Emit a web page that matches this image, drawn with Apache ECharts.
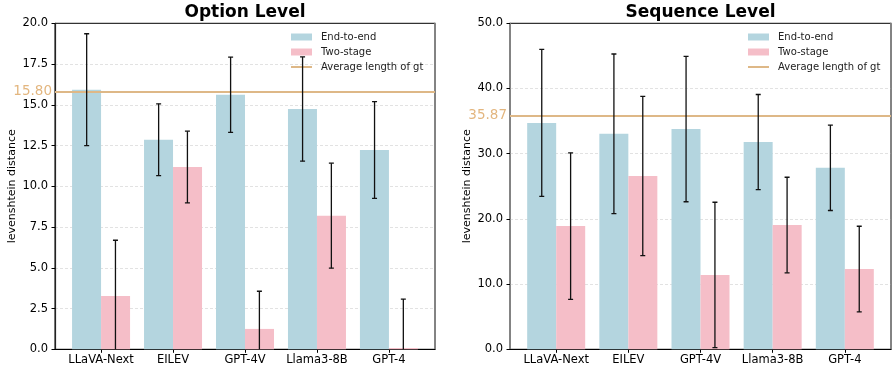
<!DOCTYPE html>
<html>
<head>
<meta charset="utf-8">
<script src="https://cdn.jsdelivr.net/npm/echarts@6/dist/echarts.min.js"></script>
<style>html,body{margin:0;padding:0;background:#fff;}#c{width:894px;height:370px;}</style>
</head>
<body>
<div id="c"></div>
<script>
// ---- data ----
const categories = ['LLaVA-Next', 'EILEV', 'GPT-4V', 'Llama3-8B', 'GPT-4'];
const optionEnd = [15.93, 12.86, 15.62, 14.74, 12.23];
const optionEndStd = [3.43, 2.2, 2.31, 3.2, 2.97];
const optionTwo = [3.27, 11.18, 1.25, 8.2, 0.08];
const optionTwoStd = [3.42, 2.2, 2.31, 3.22, 3.0];
const optionAvg = 15.80;
const seqEnd = [34.72, 33.05, 33.78, 31.78, 27.84];
const seqEndStd = [11.27, 12.24, 11.15, 7.3, 6.55];
const seqTwo = [18.9, 26.58, 11.4, 19.06, 12.3];
const seqTwoStd = [11.24, 12.22, 11.15, 7.33, 6.57];
const seqAvg = 35.87;
const seriesNames = ['End-to-end', 'Two-stage', 'Average length of gt'];

const BLUE = '#b4d5df', PINK = '#f5bec8', TAN = '#DEB887';
const FONT = 'DejaVu Sans';

const chart = echarts.init(document.getElementById('c'), null, {renderer: 'canvas'});

function pairs(vals) { return vals.map((v, i) => [i, v]); }
function errData(vals, stds) { return vals.map((v, i) => [i, v, stds[i]]); }

function errSeries(gi, vals, stds, off) {
  return {
    type: 'custom', xAxisIndex: gi, yAxisIndex: gi * 2, z: 5, clip: true,
    silent: true,
    encode: {x: 0, y: 1},
    data: errData(vals, stds),
    renderItem: function (params, api) {
      const x = api.value(0) + off, m = api.value(1), s = api.value(2);
      const top = api.coord([x, m + s]);
      const bot = api.coord([x, m - s]);
      const cw = 2.5;
      const st = {stroke: '#111', lineWidth: 1.3};
      return {type: 'group', children: [
        {type: 'line', shape: {x1: top[0], y1: top[1], x2: bot[0], y2: bot[1]}, style: st},
        {type: 'line', shape: {x1: top[0] - cw, y1: top[1], x2: top[0] + cw, y2: top[1]}, style: st},
        {type: 'line', shape: {x1: bot[0] - cw, y1: bot[1], x2: bot[0] + cw, y2: bot[1]}, style: st}
      ]};
    }
  };
}

function xAxisFor(gi) {
  return {
    type: 'value', gridIndex: gi, min: -0.64, max: 4.64,
    axisLine: {show: true, onZero: false, lineStyle: {color: '#000', width: 1}},
    axisTick: {show: true, length: 3.5, lineStyle: {color: '#000', width: 1}, customValues: [0, 1, 2, 3, 4]},
    axisLabel: {show: true, customValues: [0, 1, 2, 3, 4], color: '#000', fontSize: 11.5, fontFamily: FONT, margin: 5,
      formatter: v => categories[Math.round(v)]},
    splitLine: {show: false}
  };
}

function yAxesFor(gi, max, interval, leftColor, leftWidth) {
  return [{
    type: 'value', gridIndex: gi, min: 0, max: max, interval: interval, position: 'left',
    name: 'levenshtein distance', nameLocation: 'middle', nameGap: 37,
    nameTextStyle: {color: '#000', fontSize: 11, fontFamily: FONT},
    axisLine: {show: true, onZero: false, lineStyle: {color: leftColor, width: leftWidth}},
    axisTick: {show: true, length: 3.5, lineStyle: {color: '#000', width: 1}},
    axisLabel: {color: '#000', fontSize: 11.5, fontFamily: FONT, margin: 7, formatter: v => v.toFixed(1)},
    splitLine: {show: true, showMinLine: false, showMaxLine: false, lineStyle: {color: '#dadada', width: 0.8, type: [3, 2]}}
  }, {
    type: 'value', gridIndex: gi, min: 0, max: max, interval: interval, position: 'right',
    axisLine: {show: true, onZero: false, lineStyle: {color: '#858585', width: 1.6}},
    axisTick: {show: false}, axisLabel: {show: false}, splitLine: {show: false}
  }];
}

function avgSeries(gi, avg) {
  return {
    type: 'line', name: seriesNames[2], xAxisIndex: gi, yAxisIndex: gi * 2,
    data: [], symbol: 'none', z: 4,
    color: TAN, lineStyle: {color: TAN, width: 2},
    markLine: {
      silent: true, symbol: ['none', 'none'], animation: false,
      lineStyle: {color: TAN, width: 1.8, type: 'solid'},
      label: {show: true, position: 'start', distance: 3, color: '#e3b67f', fontSize: 13.5, fontFamily: FONT,
        formatter: () => avg.toFixed(2)},
      data: [{yAxis: avg}]
    }
  };
}

function barSeries(gi, name, vals, color) {
  return {
    type: 'bar', name: name, xAxisIndex: gi, yAxisIndex: gi * 2,
    data: pairs(vals), barWidth: 29, barGap: '0%', z: 2,
    itemStyle: {color: color}, color: color
  };
}

function legendFor(left) {
  return {
    left: left, top: 31, orient: 'vertical', itemWidth: 21, itemHeight: 7, itemGap: 3, padding: 0,
    selectedMode: false,
    textStyle: {color: '#222', fontSize: 10, fontFamily: FONT, lineHeight: 12, padding: [0, 0, 0, 4]},
    data: [
      {name: seriesNames[0], icon: 'rect'},
      {name: seriesNames[1], icon: 'rect'},
      {name: seriesNames[2], icon: 'path://M0,0H21V2H0Z', itemStyle: {color: TAN}}
    ]
  };
}

const option = {
  animation: false,
  backgroundColor: '#fff',
  title: [
    {text: 'Option Level', left: 245, top: 4, textAlign: 'center', padding: 0,
      textStyle: {fontSize: 17, fontWeight: 'bold', color: '#000', fontFamily: FONT}},
    {text: 'Sequence Level', left: 700.5, top: 4, textAlign: 'center', padding: 0,
      textStyle: {fontSize: 17, fontWeight: 'bold', color: '#000', fontFamily: FONT}}
  ],
  legend: [legendFor(291), legendFor(748)],
  grid: [
    {left: 55, width: 380, top: 23.3, height: 326, show: true, borderColor: '#000', borderWidth: 1, backgroundColor: 'transparent'},
    {left: 510, width: 381, top: 23.3, height: 326, show: true, borderColor: '#000', borderWidth: 1, backgroundColor: 'transparent'}
  ],
  xAxis: [xAxisFor(0), xAxisFor(1)],
  yAxis: [].concat(yAxesFor(0, 20, 2.5, '#222', 1.2), yAxesFor(1, 50, 10, '#858585', 1.6)),
  series: [
    barSeries(0, seriesNames[0], optionEnd, BLUE),
    barSeries(0, seriesNames[1], optionTwo, PINK),
    avgSeries(0, optionAvg),
    errSeries(0, optionEnd, optionEndStd, -0.2),
    errSeries(0, optionTwo, optionTwoStd, 0.2),
    barSeries(1, seriesNames[0], seqEnd, BLUE),
    barSeries(1, seriesNames[1], seqTwo, PINK),
    avgSeries(1, seqAvg),
    errSeries(1, seqEnd, seqEndStd, -0.2),
    errSeries(1, seqTwo, seqTwoStd, 0.2)
  ]
};
chart.setOption(option);
</script>
</body>
</html>
